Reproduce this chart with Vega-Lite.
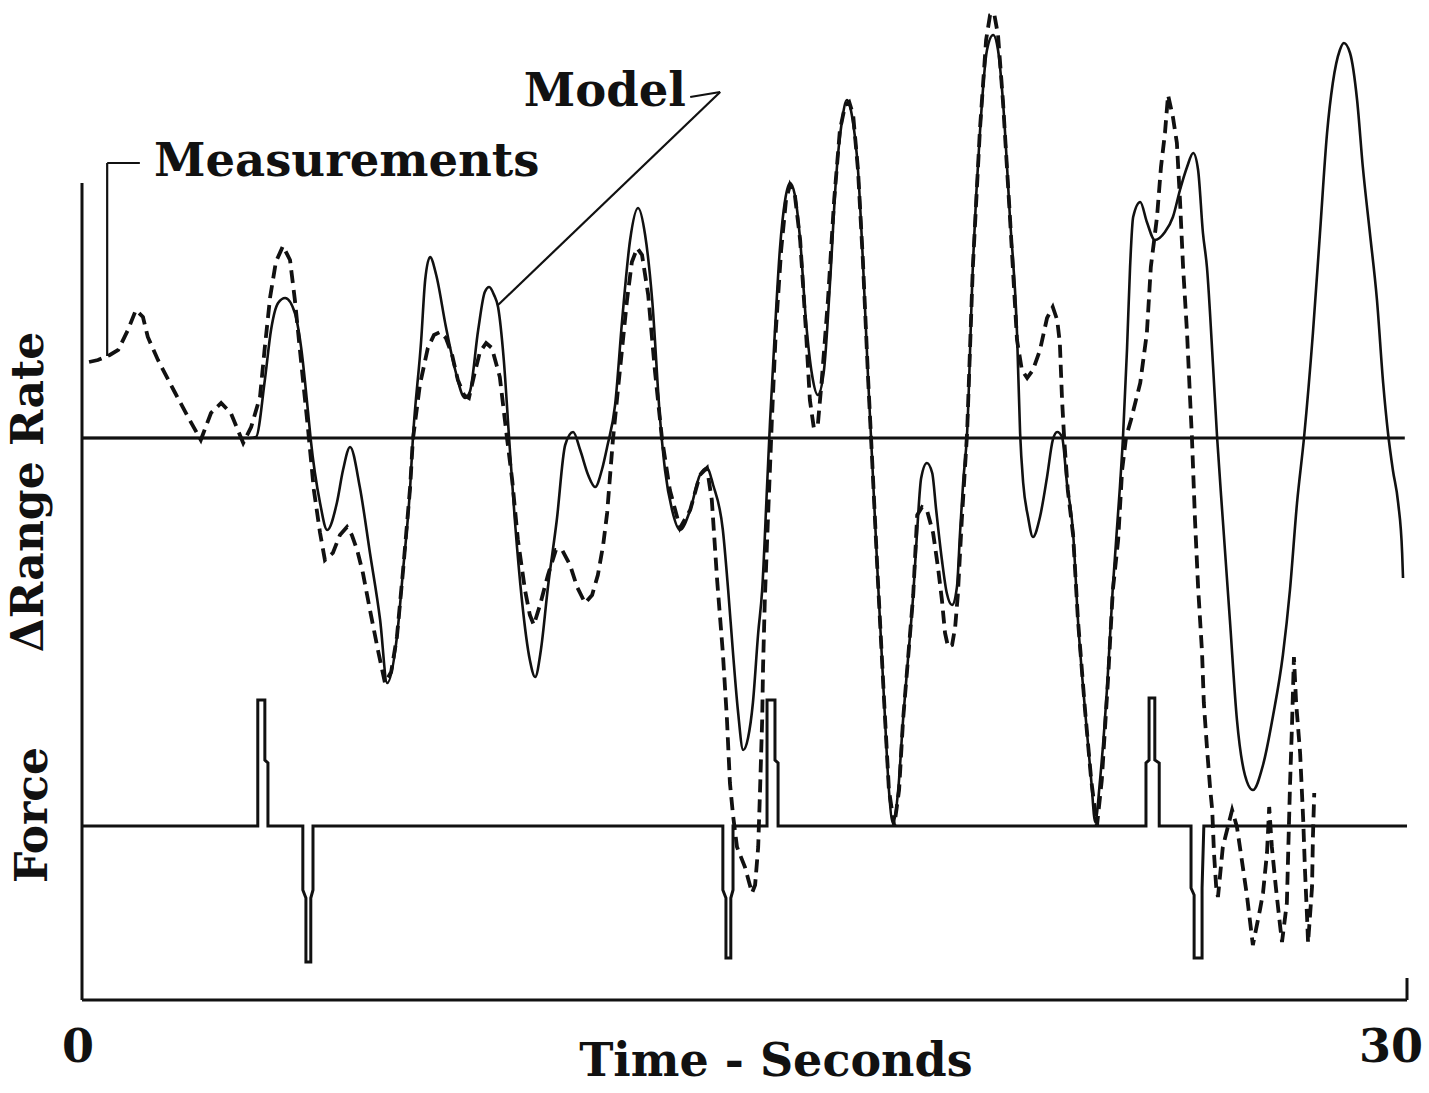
{
  "$schema": "https://vega.github.io/schema/vega-lite/v6.json",
  "autosize": "none",
  "width": 1325,
  "height": 1000,
  "padding": {"left": 82, "top": 0, "right": 22, "bottom": 93},
  "background": "white",
  "config": {"view": {"stroke": null}},
  "datasets": {
    "model": [
      {"t":0,"y":562},{"t":3.80,"y":562},{"t":3.94,"y":563},{"t":4.14,"y":620},{"t":4.28,"y":670},{"t":4.44,"y":697},{"t":4.60,"y":702},{"t":4.82,"y":687},{"t":4.96,"y":653},{"t":5.12,"y":587},{"t":5.18,"y":560},{"t":5.39,"y":497},{"t":5.55,"y":470},{"t":5.77,"y":497},{"t":5.91,"y":530},{"t":6.07,"y":553},{"t":6.29,"y":513},{"t":6.52,"y":447},{"t":6.75,"y":380},{"t":6.91,"y":317},{"t":7.13,"y":363},{"t":7.27,"y":430},{"t":7.43,"y":513},{"t":7.49,"y":560},{"t":7.68,"y":660},{"t":7.77,"y":720},{"t":7.88,"y":743},{"t":8.02,"y":725},{"t":8.24,"y":673},{"t":8.45,"y":630},{"t":8.67,"y":602},{"t":8.78,"y":608},{"t":8.97,"y":670},{"t":9.12,"y":708},{"t":9.22,"y":713},{"t":9.33,"y":705},{"t":9.42,"y":693},{"t":9.55,"y":640},{"t":9.67,"y":562},{"t":9.80,"y":480},{"t":9.96,"y":400},{"t":10.14,"y":340},{"t":10.26,"y":323},{"t":10.39,"y":350},{"t":10.55,"y":413},{"t":10.75,"y":480},{"t":10.94,"y":555},{"t":11.12,"y":568},{"t":11.28,"y":550},{"t":11.46,"y":525},{"t":11.62,"y":513},{"t":11.77,"y":530},{"t":11.89,"y":553},{"t":12.07,"y":595},{"t":12.23,"y":680},{"t":12.41,"y":760},{"t":12.59,"y":792},{"t":12.75,"y":765},{"t":12.91,"y":700},{"t":13.09,"y":580},{"t":13.20,"y":530},{"t":13.36,"y":490},{"t":13.54,"y":470},{"t":13.77,"y":490},{"t":13.99,"y":525},{"t":14.15,"y":532},{"t":14.29,"y":515},{"t":14.51,"y":470},{"t":14.63,"y":410},{"t":14.74,"y":347},{"t":14.85,"y":290},{"t":14.97,"y":250},{"t":15.08,"y":262},{"t":15.19,"y":297},{"t":15.31,"y":367},{"t":15.40,"y":410},{"t":15.51,"y":513},{"t":15.58,"y":580},{"t":15.69,"y":670},{"t":15.80,"y":750},{"t":15.92,"y":800},{"t":16.03,"y":817},{"t":16.14,"y":805},{"t":16.26,"y":760},{"t":16.39,"y":680},{"t":16.53,"y":625},{"t":16.66,"y":605},{"t":16.80,"y":630},{"t":16.94,"y":720},{"t":17.07,"y":820},{"t":17.21,"y":880},{"t":17.32,"y":900},{"t":17.43,"y":885},{"t":17.57,"y":830},{"t":17.68,"y":740},{"t":17.80,"y":620},{"t":17.89,"y":540},{"t":18.02,"y":420},{"t":18.16,"y":300},{"t":18.27,"y":210},{"t":18.36,"y":177},{"t":18.48,"y":210},{"t":18.59,"y":280},{"t":18.70,"y":340},{"t":18.82,"y":405},{"t":18.91,"y":470},{"t":19.00,"y":522},{"t":19.13,"y":537},{"t":19.25,"y":527},{"t":19.34,"y":490},{"t":19.47,"y":440},{"t":19.58,"y":407},{"t":19.70,"y":395},{"t":19.81,"y":413},{"t":19.88,"y":467},{"t":19.95,"y":517},{"t":20.04,"y":567},{"t":20.17,"y":733},{"t":20.33,"y":867},{"t":20.49,"y":950},{"t":20.63,"y":965},{"t":20.74,"y":950},{"t":20.85,"y":900},{"t":21.01,"y":783},{"t":21.17,"y":667},{"t":21.24,"y":567},{"t":21.31,"y":517},{"t":21.42,"y":483},{"t":21.53,"y":463},{"t":21.69,"y":483},{"t":21.85,"y":523},{"t":21.98,"y":560},{"t":22.08,"y":568},{"t":22.19,"y":563},{"t":22.30,"y":517},{"t":22.44,"y":467},{"t":22.55,"y":380},{"t":22.71,"y":290},{"t":22.85,"y":220},{"t":22.94,"y":178},{"t":23.05,"y":220},{"t":23.21,"y":313},{"t":23.34,"y":413},{"t":23.50,"y":513},{"t":23.57,"y":563},{"t":23.66,"y":650},{"t":23.73,"y":733},{"t":23.80,"y":783},{"t":23.96,"y":798},{"t":24.11,"y":778},{"t":24.29,"y":760},{"t":24.52,"y":768},{"t":24.70,"y":783},{"t":24.86,"y":810},{"t":25.02,"y":833},{"t":25.16,"y":847},{"t":25.27,"y":830},{"t":25.38,"y":767},{"t":25.47,"y":733},{"t":25.61,"y":633},{"t":25.70,"y":563},{"t":25.83,"y":480},{"t":25.99,"y":380},{"t":26.15,"y":280},{"t":26.33,"y":225},{"t":26.51,"y":210},{"t":26.74,"y":235},{"t":26.97,"y":285},{"t":27.19,"y":345},{"t":27.35,"y":410},{"t":27.51,"y":497},{"t":27.67,"y":563},{"t":27.87,"y":667},{"t":28.03,"y":767},{"t":28.19,"y":867},{"t":28.32,"y":917},{"t":28.48,"y":950},{"t":28.57,"y":957},{"t":28.71,"y":947},{"t":28.87,"y":900},{"t":29.00,"y":833},{"t":29.16,"y":767},{"t":29.32,"y":700},{"t":29.46,"y":617},{"t":29.57,"y":567},{"t":29.68,"y":530},{"t":29.80,"y":497},{"t":29.89,"y":447},{"t":29.91,"y":422}
    ],
    "measurements": [
      {"t":0.16,"y":638},{"t":0.36,"y":640},{"t":0.63,"y":645},{"t":0.82,"y":650},{"t":1.04,"y":670},{"t":1.22,"y":690},{"t":1.38,"y":683},{"t":1.49,"y":663},{"t":1.72,"y":640},{"t":2.11,"y":607},{"t":2.40,"y":583},{"t":2.69,"y":560},{"t":2.92,"y":587},{"t":3.15,"y":597},{"t":3.37,"y":587},{"t":3.65,"y":557},{"t":3.83,"y":573},{"t":4.03,"y":603},{"t":4.14,"y":653},{"t":4.26,"y":703},{"t":4.39,"y":738},{"t":4.55,"y":754},{"t":4.71,"y":740},{"t":4.82,"y":700},{"t":4.98,"y":630},{"t":5.12,"y":570},{"t":5.25,"y":510},{"t":5.39,"y":467},{"t":5.50,"y":440},{"t":5.68,"y":447},{"t":5.84,"y":465},{"t":6.00,"y":473},{"t":6.11,"y":465},{"t":6.23,"y":450},{"t":6.36,"y":427},{"t":6.52,"y":390},{"t":6.70,"y":350},{"t":6.86,"y":317},{"t":7.00,"y":328},{"t":7.13,"y":363},{"t":7.27,"y":430},{"t":7.43,"y":513},{"t":7.49,"y":560},{"t":7.65,"y":615},{"t":7.83,"y":652},{"t":7.97,"y":665},{"t":8.11,"y":668},{"t":8.24,"y":662},{"t":8.38,"y":645},{"t":8.51,"y":620},{"t":8.65,"y":605},{"t":8.76,"y":602},{"t":8.88,"y":625},{"t":9.01,"y":648},{"t":9.15,"y":657},{"t":9.28,"y":652},{"t":9.46,"y":623},{"t":9.62,"y":563},{"t":9.74,"y":520},{"t":9.87,"y":460},{"t":10.03,"y":410},{"t":10.14,"y":385},{"t":10.23,"y":375},{"t":10.37,"y":395},{"t":10.55,"y":425},{"t":10.73,"y":450},{"t":10.87,"y":450},{"t":11.05,"y":435},{"t":11.21,"y":413},{"t":11.39,"y":397},{"t":11.55,"y":405},{"t":11.68,"y":425},{"t":11.80,"y":455},{"t":11.89,"y":487},{"t":12.02,"y":560},{"t":12.18,"y":630},{"t":12.34,"y":700},{"t":12.45,"y":738},{"t":12.57,"y":752},{"t":12.68,"y":745},{"t":12.82,"y":705},{"t":12.97,"y":630},{"t":13.13,"y":562},{"t":13.31,"y":510},{"t":13.54,"y":472},{"t":13.77,"y":490},{"t":13.99,"y":525},{"t":14.15,"y":532},{"t":14.26,"y":500},{"t":14.38,"y":420},{"t":14.51,"y":347},{"t":14.60,"y":283},{"t":14.67,"y":217},{"t":14.74,"y":185},{"t":14.83,"y":153},{"t":15.01,"y":133},{"t":15.17,"y":107},{"t":15.24,"y":115},{"t":15.31,"y":153},{"t":15.35,"y":207},{"t":15.40,"y":280},{"t":15.42,"y":333},{"t":15.46,"y":400},{"t":15.53,"y":480},{"t":15.62,"y":580},{"t":15.71,"y":670},{"t":15.83,"y":750},{"t":15.94,"y":800},{"t":16.03,"y":815},{"t":16.14,"y":805},{"t":16.26,"y":760},{"t":16.39,"y":670},{"t":16.48,"y":600},{"t":16.57,"y":572},{"t":16.66,"y":575},{"t":16.75,"y":620},{"t":16.89,"y":700},{"t":17.03,"y":800},{"t":17.16,"y":870},{"t":17.28,"y":895},{"t":17.37,"y":898},{"t":17.46,"y":885},{"t":17.57,"y":830},{"t":17.68,"y":740},{"t":17.80,"y":620},{"t":17.89,"y":540},{"t":18.02,"y":420},{"t":18.16,"y":300},{"t":18.27,"y":210},{"t":18.39,"y":174},{"t":18.50,"y":210},{"t":18.59,"y":280},{"t":18.70,"y":340},{"t":18.82,"y":405},{"t":18.91,"y":485},{"t":19.02,"y":493},{"t":19.13,"y":490},{"t":19.27,"y":467},{"t":19.38,"y":433},{"t":19.47,"y":400},{"t":19.54,"y":367},{"t":19.61,"y":353},{"t":19.70,"y":355},{"t":19.77,"y":373},{"t":19.83,"y":405},{"t":19.92,"y":480},{"t":20.04,"y":567},{"t":20.17,"y":733},{"t":20.33,"y":870},{"t":20.47,"y":960},{"t":20.56,"y":985},{"t":20.65,"y":987},{"t":20.74,"y":965},{"t":20.85,"y":900},{"t":21.01,"y":783},{"t":21.17,"y":660},{"t":21.28,"y":630},{"t":21.40,"y":622},{"t":21.53,"y":630},{"t":21.69,"y":650},{"t":21.85,"y":682},{"t":21.98,"y":693},{"t":22.08,"y":680},{"t":22.14,"y":657},{"t":22.19,"y":600},{"t":22.24,"y":560},{"t":22.32,"y":510},{"t":22.44,"y":465},{"t":22.55,"y":380},{"t":22.71,"y":290},{"t":22.85,"y":220},{"t":22.98,"y":174},{"t":23.09,"y":220},{"t":23.23,"y":320},{"t":23.34,"y":410},{"t":23.46,"y":460},{"t":23.55,"y":530},{"t":23.64,"y":563},{"t":23.75,"y":580},{"t":23.96,"y":617},{"t":24.11,"y":667},{"t":24.20,"y":733},{"t":24.34,"y":783},{"t":24.43,"y":833},{"t":24.52,"y":867},{"t":24.59,"y":905},{"t":24.70,"y":883},{"t":24.79,"y":857},{"t":24.86,"y":800},{"t":24.93,"y":733},{"t":25.02,"y":667},{"t":25.09,"y":600},{"t":25.13,"y":563},{"t":25.20,"y":480},{"t":25.27,"y":413},{"t":25.36,"y":347},{"t":25.40,"y":297},{"t":25.47,"y":253},{"t":25.54,"y":213},{"t":25.59,"y":190},{"t":25.63,"y":147},{"t":25.68,"y":113},{"t":25.72,"y":103},{"t":25.83,"y":153},{"t":26.04,"y":190},{"t":26.15,"y":173},{"t":26.26,"y":140},{"t":26.38,"y":103},{"t":26.51,"y":55},{"t":26.67,"y":90},{"t":26.74,"y":107},{"t":26.83,"y":147},{"t":26.88,"y":193},{"t":26.94,"y":153},{"t":27.03,"y":113},{"t":27.13,"y":73},{"t":27.17,"y":58},{"t":27.28,"y":97},{"t":27.31,"y":147},{"t":27.35,"y":213},{"t":27.40,"y":280},{"t":27.44,"y":343},{"t":27.49,"y":297},{"t":27.58,"y":247},{"t":27.65,"y":180},{"t":27.69,"y":130},{"t":27.74,"y":80},{"t":27.76,"y":57},{"t":27.85,"y":113},{"t":27.87,"y":163},{"t":27.90,"y":207}
    ],
    "force": [
      {"t":0,"y":174},{"t":3.98,"y":174},{"t":3.98,"y":300},{"t":4.14,"y":300},{"t":4.14,"y":240},{"t":4.21,"y":237},{"t":4.21,"y":174},{"t":5.00,"y":174},{"t":5.00,"y":110},{"t":5.07,"y":102},{"t":5.07,"y":38},{"t":5.18,"y":38},{"t":5.18,"y":102},{"t":5.23,"y":110},{"t":5.23,"y":174},{"t":14.51,"y":174},{"t":14.51,"y":110},{"t":14.58,"y":102},{"t":14.58,"y":42},{"t":14.69,"y":42},{"t":14.69,"y":102},{"t":14.74,"y":110},{"t":14.74,"y":174},{"t":15.51,"y":174},{"t":15.51,"y":300},{"t":15.69,"y":300},{"t":15.69,"y":240},{"t":15.76,"y":237},{"t":15.76,"y":174},{"t":24.09,"y":174},{"t":24.09,"y":237},{"t":24.16,"y":240},{"t":24.16,"y":302},{"t":24.29,"y":302},{"t":24.29,"y":240},{"t":24.39,"y":237},{"t":24.39,"y":174},{"t":25.11,"y":174},{"t":25.11,"y":112},{"t":25.18,"y":105},{"t":25.18,"y":42},{"t":25.36,"y":42},{"t":25.36,"y":112},{"t":25.40,"y":174},{"t":30,"y":174}
    ],
    "frame": [
      {"t":0,"t2":0,"y":0,"y2":817},
      {"t":0,"t2":30,"y":0,"y2":0},
      {"t":30,"t2":30,"y":0,"y2":22},
      {"t":0,"t2":29.95,"y":562,"y2":562}
    ],
    "leaders": [
      {"t":0.57,"t2":1.31,"y":837,"y2":837},
      {"t":0.57,"t2":0.57,"y":837,"y2":644},
      {"t":13.77,"t2":14.45,"y":903,"y2":908},
      {"t":14.45,"t2":9.42,"y":908,"y2":695}
    ],
    "leftlabels": [
      {"t":1.63,"y":838,"label":"Measurements"},
      {"t":10.00,"y":908,"label":"Model"}
    ],
    "centerlabels": [
      {"t":-0.09,"y":-48,"label":"0"},
      {"t":29.64,"y":-48,"label":"30"},
      {"t":15.71,"y":-62,"label":"Time - Seconds"}
    ],
    "ytitles": [
      {"t":-1.18,"y":508,"label":"ΔRange Rate"},
      {"t":-1.08,"y":185,"label":"Force"}
    ]
  },
  "encoding": {
    "x": {"field": "t", "type": "quantitative", "scale": {"domain": [0, 30], "nice": false, "zero": false}, "axis": null},
    "y": {"field": "y", "type": "quantitative", "scale": {"domain": [0, 1000], "nice": false, "zero": false}, "axis": null}
  },
  "layer": [
    {
      "data": {"name": "frame"},
      "mark": {"type": "rule", "color": "#111", "strokeWidth": 3},
      "encoding": {"x2": {"field": "t2"}, "y2": {"field": "y2"}}
    },
    {
      "data": {"name": "leaders"},
      "mark": {"type": "rule", "color": "#111", "strokeWidth": 2.2},
      "encoding": {"x2": {"field": "t2"}, "y2": {"field": "y2"}}
    },
    {
      "data": {"name": "force"},
      "mark": {"type": "line", "color": "#111", "strokeWidth": 3, "interpolate": "linear"},
      "encoding": {"order": {"value": null}}
    },
    {
      "data": {"name": "model"},
      "mark": {"type": "line", "color": "#111", "strokeWidth": 2.6, "interpolate": "monotone"},
      "encoding": {"order": {"value": null}}
    },
    {
      "data": {"name": "measurements"},
      "mark": {"type": "line", "color": "#111", "strokeWidth": 3.8, "strokeDash": [13, 7], "interpolate": "linear"},
      "encoding": {"order": {"value": null}}
    },
    {
      "data": {"name": "leftlabels"},
      "mark": {"type": "text", "font": "DejaVu Serif", "fontWeight": "bold", "fontSize": 46.5, "baseline": "middle", "align": "left", "color": "#111"},
      "encoding": {"text": {"field": "label"}}
    },
    {
      "data": {"name": "centerlabels"},
      "mark": {"type": "text", "font": "DejaVu Serif", "fontWeight": "bold", "fontSize": 46, "baseline": "middle", "align": "center", "color": "#111"},
      "encoding": {"text": {"field": "label"}}
    },
    {
      "data": {"name": "ytitles"},
      "mark": {"type": "text", "font": "DejaVu Serif", "fontWeight": "bold", "fontSize": 44, "baseline": "middle", "align": "center", "angle": 270, "color": "#111"},
      "encoding": {"text": {"field": "label"}}
    }
  ]
}
